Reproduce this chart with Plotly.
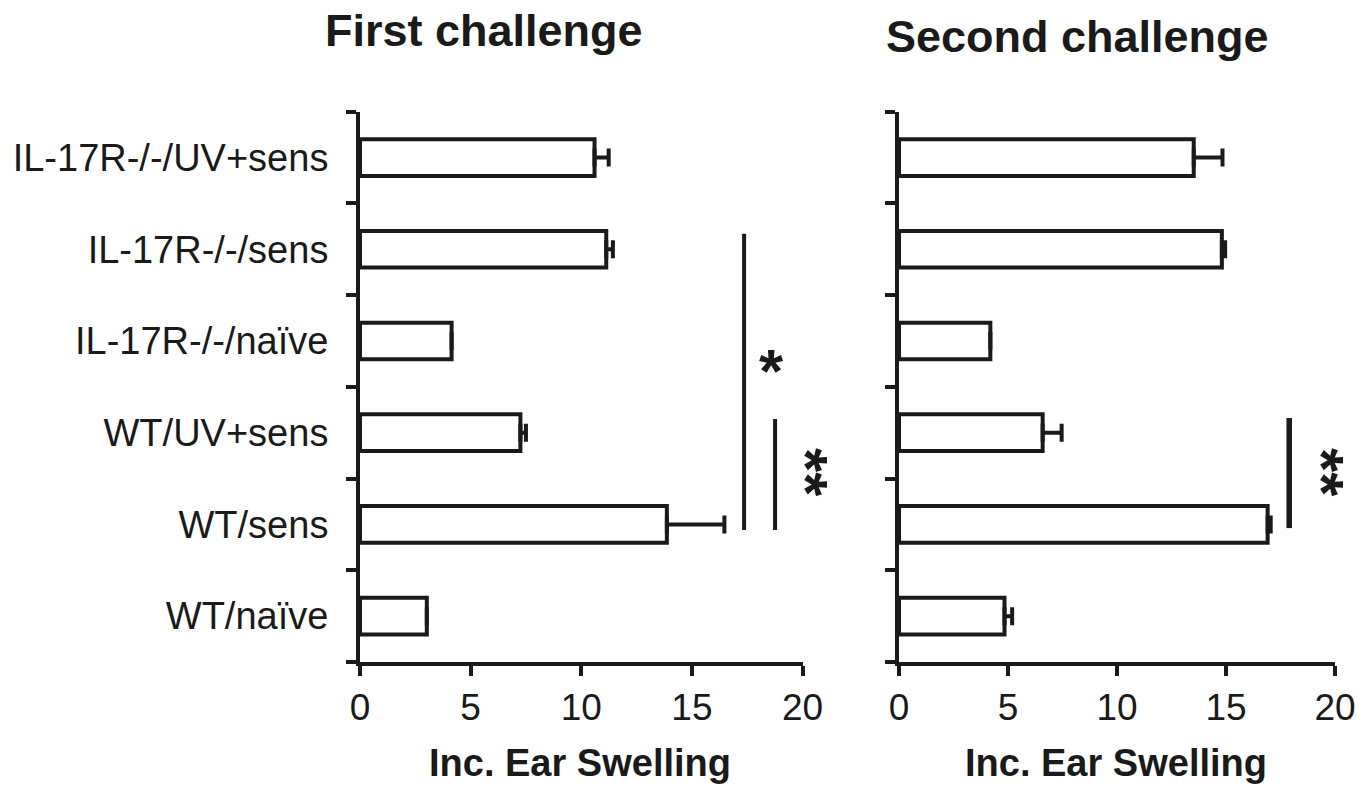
import plotly.graph_objects as go

categories = ["WT/naïve", "WT/sens", "WT/UV+sens",
              "IL-17R-/-/naïve", "IL-17R-/-/sens", "IL-17R-/-/UV+sens"]
first_values = [3.02, 13.87, 7.25, 4.14, 11.13, 10.6]
first_errors = [0.0, 2.6, 0.25, 0.0, 0.3, 0.64]
second_values = [4.84, 16.91, 6.59, 4.19, 14.81, 13.52]
second_errors = [0.35, 0.14, 0.87, 0.0, 0.15, 1.32]
x_ticks = [0, 5, 10, 15, 20]
panel_titles = ["First challenge", "Second challenge"]
x_title = "Inc. Ear Swelling"

# significance brackets: (x, y_start, y_end) in data units
first_sig_lines = [(17.36, 0.94, 4.17), (18.76, 0.94, 2.15)]
second_sig_lines = [(17.9, 0.96, 2.16)]
# significance marks: (text, x px, y px, angle)
sig_marks = [("*", 771, 370, 0), ("**", 807, 472, 90), ("**", 1323, 472, 90)]

FONT = "Liberation Sans, Arial, sans-serif"
INK = "#1a1a1a"
FW, FH = 1372, 785

fig = go.Figure()

for vals, errs, xa, ya in [(first_values, first_errors, "x", "y"),
                           (second_values, second_errors, "x2", "y2")]:
    fig.add_trace(go.Bar(
        x=vals, y=categories, orientation="h", width=0.4,
        marker=dict(color="white", line=dict(color=INK, width=4)),
        error_x=dict(type="data", array=errs, arrayminus=[0] * len(errs),
                     symmetric=False, color=INK, thickness=4, width=9),
        xaxis=xa, yaxis=ya, showlegend=False, cliponaxis=False,
    ))

def px_x(p):
    return p / FW

def px_y(p):
    return 1 - p / FH

xdom1 = [px_x(360), px_x(802.5)]
xdom2 = [px_x(899), px_x(1335)]
ydom = [px_y(662), px_y(111.7)]

xcommon = dict(range=[0, 20], tickvals=x_ticks, ticks="outside", ticklen=10,
               tickwidth=4, tickcolor=INK, showline=True, linewidth=4,
               linecolor=INK, showgrid=False, zeroline=False, automargin=False,
               tickfont=dict(family=FONT, size=37, color=INK))
ycommon = dict(type="category", categoryorder="array", categoryarray=categories,
               range=[-0.5, 5.5], tickson="boundaries", ticks="outside",
               ticklen=10, tickwidth=4, tickcolor=INK, showline=True,
               linewidth=4, linecolor=INK, showgrid=False, zeroline=False,
               automargin=False,
               tickfont=dict(family=FONT, size=38, color=INK))

fig.update_layout(
    template="none",
    width=FW, height=FH, margin=dict(l=0, r=0, t=0, b=0, pad=0),
    paper_bgcolor="white", plot_bgcolor="white",
    xaxis=dict(xcommon, domain=xdom1, anchor="y"),
    yaxis=dict(ycommon, domain=ydom, anchor="x", ticklabelstandoff=20),
    xaxis2=dict(xcommon, domain=xdom2, anchor="y2"),
    yaxis2=dict(ycommon, domain=ydom, anchor="x2", showticklabels=False),
)

shapes = []
for (x, y0, y1) in first_sig_lines:
    shapes.append(dict(type="line", xref="x", yref="y", x0=x, x1=x, y0=y0, y1=y1,
                       line=dict(color=INK, width=4)))
for (x, y0, y1) in second_sig_lines:
    shapes.append(dict(type="line", xref="x2", yref="y2", x0=x, x1=x, y0=y0, y1=y1,
                       line=dict(color=INK, width=5.5)))
fig.update_layout(shapes=shapes)

ann = []
for (t, x, y, ang) in sig_marks:
    ann.append(dict(text="<b>%s</b>" % t, x=px_x(x), y=px_y(y), xref="paper",
                    yref="paper", xanchor="center", yanchor="middle",
                    showarrow=False, textangle=ang,
                    font=dict(family=FONT, size=62, color=INK)))

ann.append(dict(text="<b>%s</b>" % panel_titles[0], x=px_x(484), y=px_y(31),
                xref="paper", yref="paper", xanchor="center", yanchor="middle",
                showarrow=False, font=dict(family=FONT, size=45, color=INK)))
ann.append(dict(text="<b>%s</b>" % panel_titles[1], x=px_x(1077), y=px_y(37),
                xref="paper", yref="paper", xanchor="center", yanchor="middle",
                showarrow=False, font=dict(family=FONT, size=45, color=INK)))
for xc in [580, 1116]:
    ann.append(dict(text="<b>%s</b>" % x_title, x=px_x(xc), y=px_y(763),
                    xref="paper", yref="paper", xanchor="center",
                    yanchor="middle", showarrow=False,
                    font=dict(family=FONT, size=38, color=INK)))
fig.update_layout(annotations=ann)

fig.write_html("out.html",
               config={"displayModeBar": False},
               post_script="document.body.style.margin='0';"
                           "document.body.style.overflow='hidden';")
